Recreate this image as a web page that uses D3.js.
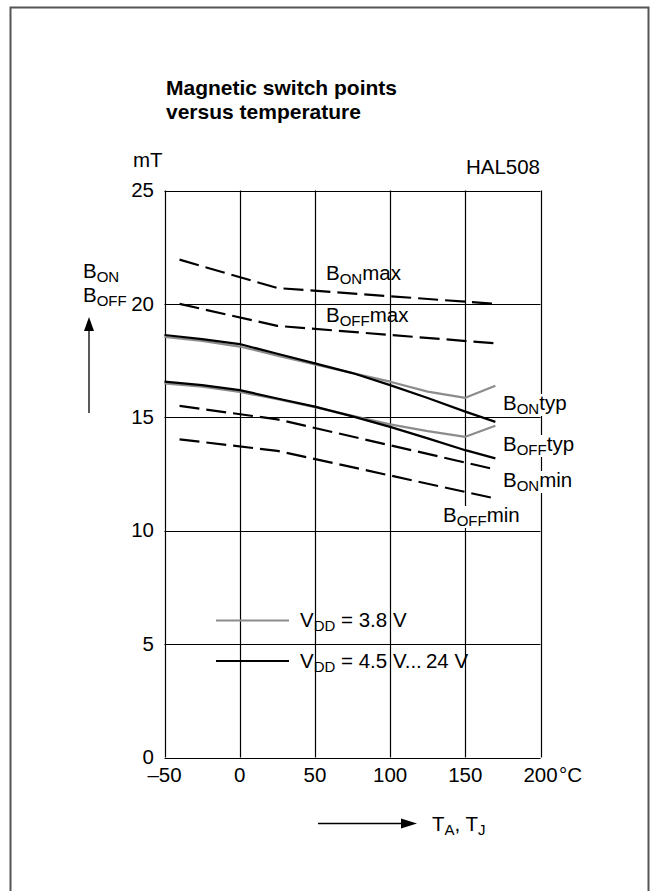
<!DOCTYPE html>
<html>
<head>
<meta charset="utf-8">
<script src="https://cdn.jsdelivr.net/npm/d3@7"></script>
<style>
  html, body { margin: 0; padding: 0; background: #fff; }
  svg { display: block; font-family: "Liberation Sans", Arial, sans-serif; }
</style>
</head>
<body>
<svg id="chart" width="658" height="891"></svg>
<script>
// Temperature axis (°C) and field axis (mT)
const xTicks = [-50, 0, 50, 100, 150, 200];
const xTickLabels = ["\u201350", "0", "50", "100", "150", "200"];
const yTicks = [0, 5, 10, 15, 20, 25];
const yTickLabels = ["0", "5", "10", "15", "20", "25"];

// Limit curves (dashed)
const limitTemps = [-40, 25, 170];
const bOnMax  = [21.95, 20.7, 20.0];
const bOffMax = [20.0, 19.03, 18.26];
const bOnMin  = [15.5, 14.91, 12.7];
const bOffMin = [14.03, 13.52, 11.42];

// Typical curves
const typTemps = [-50, -25, 0, 25, 50, 75, 100, 125, 150, 170];
// VDD = 4.5 V ... 24 V
const bOnTypHi  = [18.63, 18.45, 18.23, 17.8, 17.38, 16.95, 16.42, 15.85, 15.25, 14.8];
const bOffTypHi = [16.57, 16.42, 16.2, 15.83, 15.47, 15.04, 14.58, 14.07, 13.55, 13.19];
// VDD = 3.8 V
const bOnTypLo  = [18.55, 18.37, 18.12, 17.72, 17.33, 16.95, 16.57, 16.13, 15.86, 16.39];
const bOffTypLo = [16.5, 16.35, 16.12, 15.8, 15.45, 15.06, 14.69, 14.39, 14.14, 14.63];

const svg = d3.select("#chart");
const FS = 20.5, SUB = 15;

const x = d3.scaleLinear().domain([-50, 200]).range([164.5, 540.5]);
const y = d3.scaleLinear().domain([0, 25]).range([757.5, 190.5]);

// outer frame
svg.append("rect").attr("x", 10.5).attr("y", 7.5).attr("width", 638).attr("height", 895)
  .attr("fill", "none").attr("stroke", "#555").attr("stroke-width", 2);

// title
const title = svg.append("text").attr("x", 166).attr("font-weight", "bold").attr("font-size", 21);
title.append("tspan").attr("x", 166).attr("y", 95).text("Magnetic switch points");
title.append("tspan").attr("x", 166).attr("y", 119).text("versus temperature");

// grid
const g = svg.append("g");
g.selectAll("line.v").data(xTicks).join("line")
  .attr("x1", d => Math.round(x(d)) + 0.5).attr("x2", d => Math.round(x(d)) + 0.5)
  .attr("y1", y(25)).attr("y2", y(0)).attr("stroke", "#000").attr("stroke-width", 1.2);
g.selectAll("line.h").data(yTicks).join("line")
  .attr("y1", d => Math.round(y(d)) + 0.5).attr("y2", d => Math.round(y(d)) + 0.5)
  .attr("x1", x(-50)).attr("x2", x(200)).attr("stroke", "#000").attr("stroke-width", 1.2);

// tick labels
svg.selectAll("text.yt").data(yTicks).join("text")
  .attr("x", 154).attr("y", d => y(d)).attr("dy", "0.33em").attr("text-anchor", "end")
  .attr("font-size", FS).text((d, i) => yTickLabels[i]);
svg.selectAll("text.xt").data(xTicks).join("text")
  .attr("x", d => x(d)).attr("y", 782).attr("text-anchor", "middle")
  .attr("font-size", FS).text((d, i) => xTickLabels[i]);
svg.append("text").attr("x", 559).attr("y", 782).attr("font-size", FS).text("\u00B0C");

// units and device name
svg.append("text").attr("x", 133).attr("y", 167).attr("font-size", FS).text("mT");
svg.append("text").attr("x", 540).attr("y", 174).attr("text-anchor", "end").attr("font-size", FS).text("HAL508");

// subscripted label helper
function subLabel(sel, xPos, yPos, base, sub, tail) {
  const t = sel.append("text").attr("x", xPos).attr("y", yPos).attr("font-size", FS);
  t.append("tspan").text(base);
  t.append("tspan").attr("font-size", SUB).attr("dy", 4).text(sub);
  if (tail) t.append("tspan").attr("dy", -4).text(tail);
  return t;
}

// y-axis quantity and arrow
subLabel(svg, 83, 278, "B", "ON");
subLabel(svg, 83, 302, "B", "OFF");
svg.append("line").attr("x1", 89).attr("x2", 89).attr("y1", 413).attr("y2", 328)
  .attr("stroke", "#000").attr("stroke-width", 1.3);
svg.append("path").attr("d", "M89,317 L84,331 L94,331 Z").attr("fill", "#000");

// x-axis quantity and arrow
svg.append("line").attr("x1", 318).attr("x2", 404).attr("y1", 823.5).attr("y2", 823.5)
  .attr("stroke", "#000").attr("stroke-width", 1.3);
svg.append("path").attr("d", "M417,823.5 L401,818.5 L401,828.5 Z").attr("fill", "#000");
const tx = svg.append("text").attr("x", 432).attr("y", 831).attr("font-size", FS);
tx.append("tspan").text("T");
tx.append("tspan").attr("font-size", SUB).attr("dy", 4).text("A");
tx.append("tspan").attr("dy", -4).text(", T");
tx.append("tspan").attr("font-size", SUB).attr("dy", 4).text("J");

// curves
const lineGen = d3.line().x(d => x(d[0])).y(d => y(d[1]));
const curves = svg.append("g").attr("fill", "none").attr("stroke-linejoin", "round");

function draw(temps, vals, color, dash) {
  curves.append("path")
    .attr("d", lineGen(temps.map((t, i) => [t, vals[i]])))
    .attr("stroke", color).attr("stroke-width", 2.2)
    .attr("stroke-dasharray", dash || null);
}
draw(typTemps, bOnTypLo, "#8c8c8c");
draw(typTemps, bOffTypLo, "#8c8c8c");
draw(typTemps, bOnTypHi, "#000");
draw(typTemps, bOffTypHi, "#000");
[bOnMax, bOffMax, bOnMin, bOffMin].forEach(v => draw(limitTemps, v, "#000", "20,7"));

// curve labels (right-side ones knocked out of the grid)
function knockLabel(xPos, yPos, sub, tail) {
  const grp = svg.append("g");
  const bg = grp.append("rect").attr("fill", "#fff");
  const t = subLabel(grp, xPos, yPos, "B", sub, tail);
  const bb = t.node().getBBox();
  bg.attr("x", bb.x - 1).attr("y", bb.y + 3).attr("width", bb.width + 2).attr("height", bb.height - 4);
}
subLabel(svg, 326, 280, "B", "ON", "max");
subLabel(svg, 326, 322, "B", "OFF", "max");
knockLabel(503, 410, "ON", "typ");
knockLabel(503, 451, "OFF", "typ");
knockLabel(503, 487, "ON", "min");
knockLabel(443, 522, "OFF", "min");

// legend
const legend = [
  { color: "#8c8c8c", y: 620.5, sub: "DD", text: " = 3.8 V" },
  { color: "#000", y: 661, sub: "DD", text: " = 4.5 V...\u200924 V" }
];
legend.forEach(l => {
  svg.append("line").attr("x1", 216).attr("x2", 289).attr("y1", l.y).attr("y2", l.y)
    .attr("stroke", l.color).attr("stroke-width", 2.2);
  const t = svg.append("text").attr("x", 300).attr("y", l.y + 6.5).attr("font-size", FS);
  t.append("tspan").text("V");
  t.append("tspan").attr("font-size", SUB).attr("dy", 4).text(l.sub);
  t.append("tspan").attr("dy", -4).text(l.text);
});
</script>
</body>
</html>
